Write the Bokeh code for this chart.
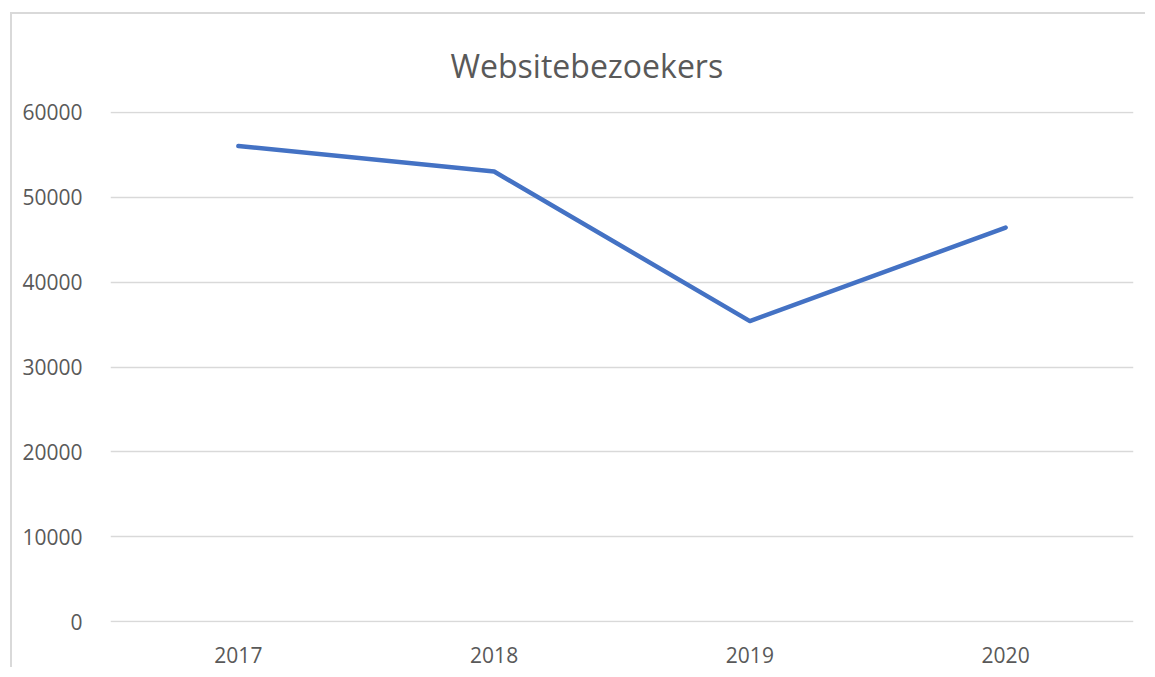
from bokeh.plotting import figure
from bokeh.models import Range1d, FactorRange, FixedTicker, Title
from bokeh.embed import file_html
from bokeh.resources import INLINE

years = ["2017", "2018", "2019", "2020"]
visitors = [56000, 53000, 35400, 46400]
y_ticks = [0, 10000, 20000, 30000, 40000, 50000, 60000]

FONT = "Open Sans"
TXT = "#595959"
GRID = "#D9D9D9"

p = figure(width=1135, height=655, x_range=FactorRange(*years, range_padding=0),
           y_range=Range1d(-60, 60060), output_backend="svg", toolbar_location=None,
           min_border_left=98, min_border_right=14, min_border_top=97, min_border_bottom=47)
p.margin = (12, 0, 0, 10)
p.styles = {"border-left": "2px solid #D9D9D9", "border-top": "2px solid #D9D9D9"}

t = Title(text="Websitebezoekers", align="left", offset=340, standoff=50,
          text_font=FONT, text_font_size="32px", text_font_style="normal", text_color=TXT)
p.add_layout(t, "above")

p.line(years, visitors, line_color="#4472C4", line_width=4.5, line_cap="round", line_join="round")

p.outline_line_color = None
p.xgrid.grid_line_color = None
p.ygrid.grid_line_color = GRID
p.ygrid.grid_line_width = 1.3
p.yaxis.ticker = FixedTicker(ticks=y_ticks)

for ax in (p.xaxis[0], p.yaxis[0]):
    ax.axis_line_color = None
    ax.major_tick_line_color = None
    ax.minor_tick_line_color = None
    ax.major_label_text_font = FONT
    ax.major_label_text_font_size = "21px"
    ax.major_label_text_color = TXT
p.yaxis.major_label_standoff = 22
p.xaxis.major_label_standoff = 18

open("out.html", "w").write(file_html(p, INLINE))
